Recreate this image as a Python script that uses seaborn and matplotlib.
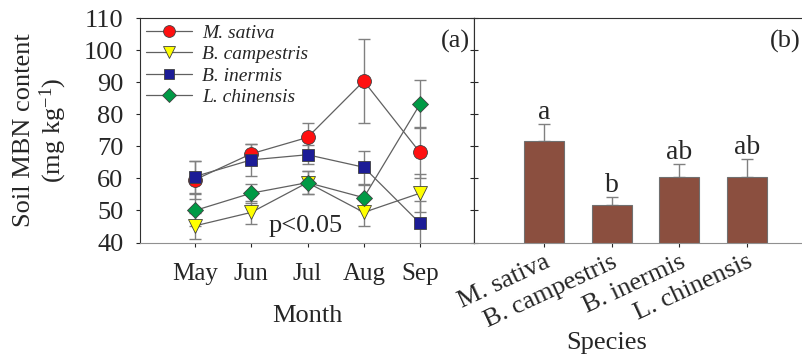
import matplotlib
matplotlib.use("Agg")
import matplotlib.pyplot as plt
from matplotlib.lines import Line2D
import numpy as np
import pandas as pd
import seaborn as sns

# ---- data ----
months = ["May", "Jun", "Jul", "Aug", "Sep"]
species = ["M. sativa", "B. campestris", "B. inermis", "L. chinensis"]

m_sativa = [59.6, 67.7, 72.8, 90.4, 68.1]
m_sativa_err = [6.0, 3.0, 4.4, 13.0, 8.0]
b_campestris = [45.2, 49.4, 58.7, 49.4, 55.4]
b_campestris_err = [4.0, 3.6, 3.5, 4.2, 6.0]
b_inermis = [60.6, 65.8, 67.4, 63.5, 46.0]
b_inermis_err = [5.0, 5.0, 3.0, 5.2, 7.0]
l_chinensis = [50.0, 55.4, 58.7, 54.0, 83.2]
l_chinensis_err = [5.0, 3.0, 3.5, 4.0, 7.4]

bar_means = [71.7, 51.7, 60.6, 60.3]
bar_err = [5.2, 2.4, 4.0, 5.8]
bar_letters = ["a", "b", "ab", "ab"]

y_ticks = [40, 50, 60, 70, 80, 90, 100, 110]

# ---- style ----
sns.set_style("ticks")
plt.rcParams["font.family"] = ["Liberation Serif", "DejaVu Serif"]
plt.rcParams["mathtext.fontset"] = "custom"
plt.rcParams["mathtext.rm"] = "Liberation Serif"
plt.rcParams["mathtext.it"] = "Liberation Serif:italic"

series_vals = [m_sativa, b_campestris, b_inermis, l_chinensis]
series_err = [m_sativa_err, b_campestris_err, b_inermis_err, l_chinensis_err]
colors = ["#ff1010", "#ffff00", "#1c1c96", "#009a45"]
markers = ["o", "v", "s", "D"]
msizes = [10, 10, 8.5, 8.5]

rows = []
for sp, vals in zip(species, series_vals):
    for i, (m, v) in enumerate(zip(months, vals)):
        rows.append({"species": sp, "month": m, "pos": i, "value": v})
df = pd.DataFrame(rows)

fig = plt.figure(figsize=(8.02, 3.6), dpi=100)
W, H = 802.0, 360.0
bottom = 1 - 242.5 / H
height = 224.2 / H
ax1 = fig.add_axes([140 / W, bottom, (474 - 140) / W, height])
ax2 = fig.add_axes([474 / W, bottom, (812 - 474) / W, height])

line_grey = "#606060"
err_grey = "#808080"

# ---- panel (a) ----
sns.lineplot(data=df, x="pos", y="value", units="species", estimator=None,
             color=line_grey, lw=0.9, ax=ax1, legend=False, zorder=2)
for vals, errs in zip(series_vals, series_err):
    ax1.errorbar(range(len(months)), vals, yerr=errs, fmt="none",
                 ecolor=err_grey, elinewidth=1.0, capsize=4, capthick=1.0, zorder=1)
for sp, col, mk, ms in zip(species, colors, markers, msizes):
    sub = df[df["species"] == sp]
    ax1.plot(sub["pos"], sub["value"], ls="none", marker=mk, ms=ms,
             mfc=col, mec="#404040", mew=0.6, zorder=3)

ax1.set_xlim(-0.978, 4.96)
ax1.set_ylim(40, 110)
ax1.set_yticks(y_ticks)
ax1.set_xticks(range(len(months)))
ax1.set_xticklabels(months, fontsize=18)
ax1.tick_params(axis="y", labelsize=19, direction="out", length=3, width=0.8, pad=9)
ax1.tick_params(axis="x", direction="out", length=3, width=0.8, pad=12)
ax1.set_xlabel("Month", fontsize=19)
ax1.xaxis.label.set_va("center")
ax1.xaxis.set_label_coords(0.5, (242.5 - 316) / 224.2)
ax1.set_ylabel("Soil MBN content\n(mg kg$^{-1}$)", fontsize=19, linespacing=1.15)
ax1.yaxis.label.set_va("center")
ax1.yaxis.set_label_coords((41 - 140) / 334.0, 0.5)
for s in ax1.spines.values():
    s.set_linewidth(0.8)
    s.set_color("#303030")
ax1.spines["bottom"].set_color("#909090")
# right ticks pointing inward
ax1r = ax1.secondary_yaxis("right")
ax1r.set_yticks(y_ticks)
ax1r.tick_params(direction="in", length=3, width=0.8, labelright=False)

handles = [Line2D([0], [0], color=line_grey, lw=0.9, marker=mk, ms=ms - 1.5,
                  mfc=col, mec="#404040", mew=0.6)
           for col, mk, ms in zip(colors, markers, msizes)]
ax1.legend(handles, species, loc="upper left", bbox_to_anchor=(0.0, 1.0),
           frameon=False, prop={"family": "Liberation Serif", "style": "italic", "size": 14},
           handlelength=2.4, handletextpad=0.5, labelspacing=0.2, borderaxespad=0.15,
           borderpad=0.15)
ax1.text(0.988, 0.895, "(a)", transform=ax1.transAxes, ha="right", va="center", fontsize=19)
ax1.text((306 - 140) / 334.0, (242.5 - 226) / 224.2, "p<0.05", transform=ax1.transAxes,
         ha="center", va="center", fontsize=19)

# ---- panel (b) ----
bdf = pd.DataFrame({"species": species, "value": bar_means})
sns.barplot(data=bdf, x="species", y="value", color="#8b4f3f", saturation=1,
            width=0.59, errorbar=None, edgecolor="#707070", linewidth=0.8, ax=ax2, zorder=2)
ax2.errorbar(range(len(species)), bar_means, yerr=[np.zeros(len(bar_err)), bar_err],
             fmt="none", ecolor=err_grey, elinewidth=1.0, capsize=4, capthick=1.0, zorder=1)
for i, (m, e, t) in enumerate(zip(bar_means, bar_err, bar_letters)):
    ax2.text(i, m + e + 1.6, t, ha="center", va="baseline", fontsize=20)
ax2.set_xlim(-1.034, 3.96)
ax2.set_ylim(40, 110)
ax2.set_yticks(y_ticks)
ax2.tick_params(axis="y", direction="in", length=3, width=0.8, labelleft=False)
ax2.tick_params(axis="x", direction="out", length=3, width=0.8, pad=3)
ax2.set_xticks(range(len(species)))
ax2.set_xticklabels(species, rotation=25, ha="right", va="top", rotation_mode="anchor",
                    fontsize=19)
ax2.set_xlabel("Species", fontsize=19)
ax2.xaxis.label.set_va("center")
ax2.xaxis.set_label_coords((607 - 474) / (812 - 474), (242.5 - 343) / 224.2)
ax2.set_ylabel("")
ax2.spines["right"].set_visible(False)
for s in ax2.spines.values():
    s.set_linewidth(0.8)
    s.set_color("#303030")
ax2.spines["bottom"].set_color("#909090")
ax2.text((770 - 474) / (812 - 474), 0.895, "(b)", transform=ax2.transAxes,
         ha="left", va="center", fontsize=19)

fig.savefig("out.png", dpi=100)
